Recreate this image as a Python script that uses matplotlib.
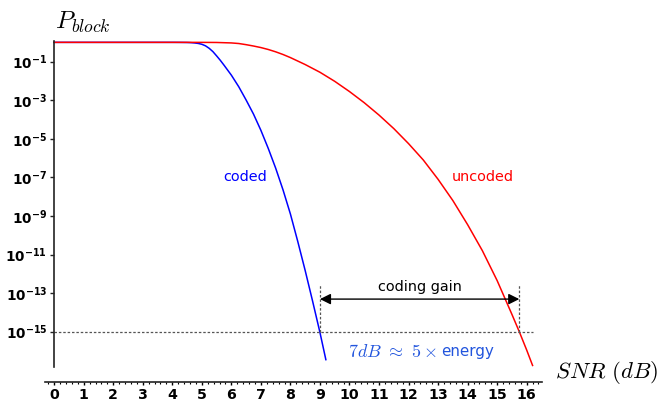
import numpy as np
import matplotlib
matplotlib.use("Agg")
from matplotlib import pyplot as plt
from matplotlib.ticker import FixedLocator, MultipleLocator

plt.rcParams['mathtext.fontset'] = 'cm'
plt.rcParams['font.family'] = ['DejaVu Sans']

# coded curve: SNR (dB) and log10 of block error probability
coded_snr = [0, 1, 2, 3, 4, 4.25, 4.5, 4.625, 4.75, 4.875, 5.0, 5.125, 5.25, 5.375,
             5.5, 5.625, 5.75, 6.0, 6.25, 6.5, 6.75, 7.0, 7.25, 7.5, 7.75, 8.0, 8.25,
             8.5, 8.75, 9.0, 9.2]
coded_logp = [0, 0, 0, 0, 0, -0.002, -0.007, -0.015, -0.03, -0.055, -0.10, -0.18, -0.31,
              -0.48, -0.70, -0.93, -1.18, -1.70, -2.30, -2.99, -3.72, -4.56, -5.50,
              -6.52, -7.65, -8.90, -10.33, -11.83, -13.41, -15.04, -16.45]

# uncoded curve
uncoded_snr = [0, 1, 2, 3, 4, 4.5, 5.0, 5.5, 6.0, 6.25, 6.5, 6.75, 7.0, 7.25, 7.5, 7.75,
               8.0, 8.5, 9.0, 9.5, 10.0, 10.5, 11.0, 11.5, 12.0, 12.5, 13.0, 13.5, 14.0,
               14.5, 15.0, 15.5, 15.75, 16.0, 16.2]
uncoded_logp = [0, 0, 0, 0, 0, 0, -0.001, -0.006, -0.03, -0.06, -0.12, -0.19, -0.27,
                -0.37, -0.49, -0.63, -0.79, -1.15, -1.55, -2.02, -2.55, -3.13, -3.77,
                -4.47, -5.25, -6.1, -7.1, -8.2, -9.45, -10.8, -12.35, -14.1, -15.0,
                -15.95, -16.75]

ytick_exp = [-1, -3, -5, -7, -9, -11, -13, -15]
xticks = list(range(0, 17))

# reference level and the two crossings
p_ref = 1e-15
snr_coded_ref = 9.0
snr_uncoded_ref = 15.75

fig = plt.figure(figsize=(6.59, 4.04), dpi=100)
ax = fig.add_axes([0.0683, 0.0916, 0.7542, 0.8069])

ax.plot(coded_snr, 10.0 ** np.array(coded_logp), color='blue', lw=1.1)
ax.plot(uncoded_snr, 10.0 ** np.array(uncoded_logp), color='red', lw=1.1)
ax.set_yscale('log')
ax.set_xlim(-0.31, 16.52)
ax.set_ylim(10 ** -16.83, 10 ** 0.07)

# dotted guides
ax.plot([0, 16.2], [p_ref, p_ref], color='#555555', ls=(0, (2, 1.5)), lw=0.9)
for s in (snr_coded_ref, snr_uncoded_ref):
    ax.plot([s, s], [p_ref, 10 ** -12.52], color='#555555', ls=(0, (2, 1.5)), lw=0.9)

ax.annotate('', xy=(snr_coded_ref, 10 ** -13.31), xytext=(snr_uncoded_ref, 10 ** -13.31),
            arrowprops=dict(arrowstyle='<|-|>', color='black', lw=1.0,
                            mutation_scale=16, shrinkA=0, shrinkB=0))
ax.text(12.4, 10 ** -12.68, 'coding gain', ha='center', va='center', fontsize=10.4)
ax.text(6.47, 10 ** -7.0, 'coded', color='blue', ha='center', va='center', fontsize=10.4)
ax.text(14.52, 10 ** -7.0, 'uncoded', color='red', ha='center', va='center', fontsize=10.4)
ax.text(12.96, 10 ** -16.05, r'$7dB\ \approx\ 5\times$', color='#2255dd',
        ha='right', va='center', fontsize=13)
ax.text(13.1, 10 ** -16.05, 'energy', color='#2255dd',
        ha='left', va='center', fontsize=10.9)

# axes in the Sage style
for side in ('top', 'right'):
    ax.spines[side].set_visible(False)
ax.spines['left'].set_position(('data', 0))
ax.spines['bottom'].set_position(('outward', 10.8))
for side in ('left', 'bottom'):
    ax.spines[side].set_color('#222222')
    ax.spines[side].set_linewidth(1.2)

ax.yaxis.set_major_locator(FixedLocator([10.0 ** e for e in ytick_exp]))
ax.yaxis.set_minor_locator(FixedLocator([]))
ax.set_yticklabels([r'$\mathbf{10^{-%d}}$' % (-e) for e in ytick_exp])
for lbl in ax.get_yticklabels():
    lbl.set_math_fontfamily('dejavusans')
ax.tick_params(axis='y', which='major', length=3, width=1, labelsize=9.8, pad=2,
               color='#222222')

ax.set_xticks(xticks)
ax.set_xticklabels([str(v) for v in xticks], fontweight='bold')
ax.xaxis.set_minor_locator(MultipleLocator(0.2))
ax.tick_params(axis='x', which='major', length=2.5, width=1, labelsize=10.2, pad=2)
ax.tick_params(axis='x', which='minor', length=1.6, width=0.8)

fig.text(0.083, 0.945, r'$P_{block}$', fontsize=18, ha='left', va='center')
fig.text(0.842, 0.077, r'$SNR\ (dB)$', fontsize=16.5, ha='left', va='center')

plt.savefig('out.png', dpi=100)
